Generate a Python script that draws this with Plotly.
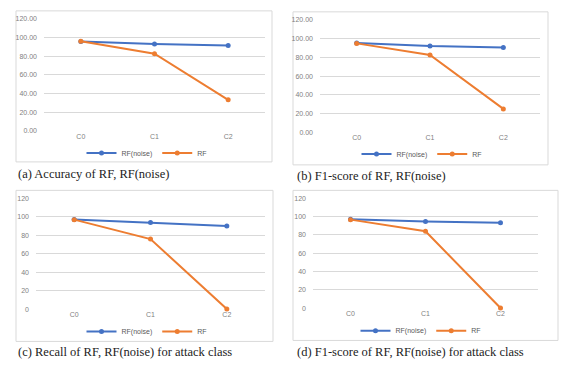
import plotly.graph_objects as go

W, H = 563, 366

COLOUR_NOISE = "#4472C4"   # blue - RF(noise)
COLOUR_RF = "#ED7D31"      # orange - RF
GRID = "#D9D9D9"
TICK_FONT = dict(family="Liberation Sans, Arial, sans-serif", size=7, color="#7F7F7F")
CAPTION_FONT = dict(family="Liberation Serif, Times New Roman, serif", size=12.5, color="#222222")

categories = ["C0", "C1", "C2"]

acc_noise = [95.6, 93.0, 91.3]
acc_rf = [95.8, 82.6, 33.2]

f1_noise = [95.2, 91.9, 90.4]
f1_rf = [94.8, 82.4, 25.1]

recall_noise = [97.0, 93.8, 90.0]
recall_rf = [96.8, 75.8, 0.0]

f1_attack_noise = [96.9, 94.6, 93.2]
f1_attack_rf = [96.6, 83.9, 0.0]

captions = [
    "(a) Accuracy of RF, RF(noise)",
    "(b) F1-score of RF, RF(noise)",
    "(c) Recall of RF, RF(noise) for attack class",
    "(d) F1-score of RF, RF(noise) for attack class",
]


def px_x(p):
    return p / W


def px_y(p):
    return 1 - p / H


# (plot area px box, border px box, legend centre px, caption px, tick format)
panels = [
    dict(noise=acc_noise, rf=acc_rf, area=(44, 265, 15, 129.3), border=(16, 272, 7, 161),
         legend=(147, 152), caption=(16, 173), fmt=".2f"),
    dict(noise=f1_noise, rf=f1_rf, area=(320, 540, 16, 131), border=(293, 548, 8, 164),
         legend=(422, 153), caption=(295, 175), fmt=".2f"),
    dict(noise=recall_noise, rf=recall_rf, area=(36, 265, 198, 311), border=(16, 273, 190, 344),
         legend=(147, 334), caption=(16, 355), fmt="d"),
    dict(noise=f1_attack_noise, rf=f1_attack_rf, area=(313, 538, 198, 310), border=(293, 558, 190, 343),
         legend=(421, 333), caption=(295, 355), fmt="d"),
]

fig = go.Figure()
layout = {}

for i, p in enumerate(panels, start=1):
    sfx = "" if i == 1 else str(i)
    leg = "legend" if i == 1 else f"legend{i}"
    x0, x1, y0, y1 = p["area"]

    fig.add_trace(go.Scatter(
        x=categories, y=p["noise"], name="RF(noise)", mode="lines+markers",
        line=dict(color=COLOUR_NOISE, width=2), marker=dict(size=5, color=COLOUR_NOISE),
        xaxis=f"x{sfx}", yaxis=f"y{sfx}", legend=leg, cliponaxis=False,
    ))
    fig.add_trace(go.Scatter(
        x=categories, y=p["rf"], name="RF", mode="lines+markers",
        line=dict(color=COLOUR_RF, width=2), marker=dict(size=5, color=COLOUR_RF),
        xaxis=f"x{sfx}", yaxis=f"y{sfx}", legend=leg, cliponaxis=False,
    ))

    layout[f"xaxis{sfx}"] = dict(
        domain=[px_x(x0), px_x(x1)], anchor=f"y{sfx}", type="category",
        range=[-0.5, 2.5], showgrid=False, zeroline=False, showline=False,
        ticks="", tickfont=TICK_FONT, fixedrange=True,
    )
    layout[f"yaxis{sfx}"] = dict(
        domain=[px_y(y1), px_y(y0)], anchor=f"x{sfx}", range=[0, 120], dtick=20,
        showgrid=True, gridcolor=GRID, gridwidth=1, zeroline=False, showline=False,
        tickformat=p["fmt"], ticks="", tickfont=TICK_FONT, ticklabelstandoff=6,
    )

    lx, ly = p["legend"]
    layout[leg] = dict(
        orientation="h", x=px_x(lx), y=px_y(ly), xanchor="center", yanchor="middle",
        font=dict(family="Liberation Sans, Arial, sans-serif", size=7, color="#595959"),
        bgcolor="rgba(0,0,0,0)", itemwidth=30, tracegroupgap=0,
    )

    bx0, bx1, by0, by1 = p["border"]
    fig.add_shape(
        type="rect", xref="paper", yref="paper",
        x0=px_x(bx0), x1=px_x(bx1), y0=px_y(by1), y1=px_y(by0),
        line=dict(color=GRID, width=1), fillcolor="rgba(0,0,0,0)", layer="below",
    )

    cx, cy = p["caption"]
    fig.add_annotation(
        text=captions[i - 1], xref="paper", yref="paper", x=px_x(cx), y=px_y(cy),
        xanchor="left", yanchor="middle", showarrow=False, font=CAPTION_FONT,
    )

fig.update_layout(
    **layout,
    width=W, height=H,
    margin=dict(l=0, r=0, t=0, b=0),
    paper_bgcolor="white", plot_bgcolor="white",
    showlegend=True,
)

# the page body has a default 8px margin; drop it so the figure fills the window
fig.write_html(
    "out.html",
    config={"displayModeBar": False},
    post_script="document.body.style.margin = '0';",
)
